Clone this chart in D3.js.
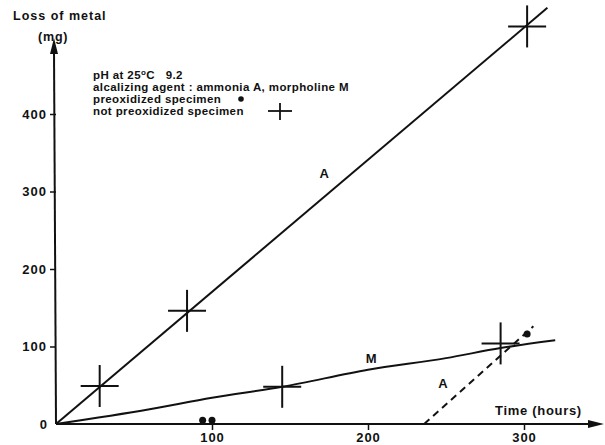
<!DOCTYPE html>
<html>
<head>
<meta charset="utf-8">
<script src="https://cdn.jsdelivr.net/npm/d3@7"></script>
<style>
  html, body { margin: 0; padding: 0; background: #fff; }
  svg { display: block; font-family: "Liberation Sans", Arial, sans-serif; }
</style>
</head>
<body>
<svg id="chart" width="605" height="445"></svg>
<script>
// ---- data (time in hours, loss in mg) ----
const xTicks = [100, 200, 300];
const yTicks = [0, 100, 200, 300, 400];
const lineA = [[0, 0], [315, 537]];
const lineM = [[0, 0], [60, 19], [100, 34], [145, 48], [200, 70], [250, 85], [285, 98], [320, 108]];
const lineAdashed = [[236, 0], [306, 126]];
const notPreoxidized = [[28, 49], [84, 146], [145, 48], [285, 104], [302, 513]];
const preoxidized = [[94, 5], [100, 5], [302, 116]];
const curveLabels = [
  { text: "A", t: 172, v: 318 },
  { text: "M", t: 202, v: 79 },
  { text: "A", t: 248, v: 46 }
];
const noteLines = [
  "alcalizing agent : ammonia A, morpholine M",
  "preoxidized specimen",
  "not preoxidized specimen"
];

const svg = d3.select("#chart");
const x = d3.scaleLinear().domain([0, 300]).range([56, 524]);
const y = d3.scaleLinear().domain([0, 400]).range([424, 114]);
const ink = "#111";

// axes
const yAxis = d3.axisLeft(y).tickValues(yTicks.filter(d => d > 0)).tickSize(6).tickFormat(d3.format("d"));
const gy = svg.append("g").attr("transform", `translate(${x(0)},0)`).call(yAxis);
gy.select(".domain").remove();
gy.selectAll("line").attr("stroke", ink).attr("stroke-width", 1.5);
gy.selectAll("text").attr("font-size", 13).attr("font-weight", "bold").attr("fill", ink)
  .attr("letter-spacing", 1).attr("x", -9);

const xAxis = d3.axisBottom(x).tickValues(xTicks).tickSize(6).tickFormat(d3.format("d"));
const gx = svg.append("g").attr("transform", `translate(0,${y(0)})`).call(xAxis);
gx.select(".domain").remove();
gx.selectAll("line").attr("stroke", ink).attr("stroke-width", 1.5);
gx.selectAll("text").attr("font-size", 13).attr("font-weight", "bold").attr("fill", ink)
  .attr("letter-spacing", 1).attr("y", 9);

// zero label
svg.append("text").attr("x", x(0) - 9).attr("y", y(0) + 5).attr("text-anchor", "end")
  .attr("font-size", 13).attr("font-weight", "bold").attr("fill", ink).text("0");

// axis lines with arrows
svg.append("line").attr("x1", x(0)).attr("y1", y(0)).attr("x2", x(0) - 2).attr("y2", 50)
  .attr("stroke", ink).attr("stroke-width", 2);
svg.append("path").attr("d", `M${x(0) - 2},38 L${x(0) - 6},54 L${x(0) + 2},54 Z`).attr("fill", ink);
svg.append("line").attr("x1", x(0)).attr("y1", y(0)).attr("x2", 592).attr("y2", y(0))
  .attr("stroke", ink).attr("stroke-width", 2);
svg.append("path").attr("d", `M604,${y(0)} L588,${y(0) - 4} L588,${y(0) + 4} Z`).attr("fill", ink);

// axis titles
svg.append("text").attr("x", 13).attr("y", 20).attr("font-size", 12.5).attr("font-weight", "bold")
  .attr("fill", ink).attr("letter-spacing", 1).text("Loss of metal");
svg.append("text").attr("x", 38).attr("y", 41).attr("font-size", 12.5).attr("font-weight", "bold")
  .attr("fill", ink).attr("letter-spacing", 0.8).text("(mg)");
svg.append("text").attr("x", 495).attr("y", 415).attr("font-size", 13).attr("font-weight", "bold")
  .attr("fill", ink).attr("letter-spacing", 0.7).text("Time (hours)");

// curves
const line = d3.line().x(d => x(d[0])).y(d => y(d[1]));
svg.append("path").datum(lineA).attr("d", line).attr("fill", "none").attr("stroke", ink).attr("stroke-width", 2);
svg.append("path").datum(lineM).attr("d", d3.line().x(d => x(d[0])).y(d => y(d[1])).curve(d3.curveMonotoneX))
  .attr("fill", "none").attr("stroke", ink).attr("stroke-width", 2);
svg.append("path").datum(lineAdashed).attr("d", line)
  .attr("fill", "none").attr("stroke", ink).attr("stroke-width", 2).attr("stroke-dasharray", "7,5");

// curve labels
svg.selectAll("text.curve").data(curveLabels).enter().append("text").attr("class", "curve")
  .attr("x", d => x(d.t)).attr("y", d => y(d.v)).attr("text-anchor", "middle")
  .attr("font-size", 13).attr("font-weight", "bold").attr("fill", ink).text(d => d.text);

// crosses (not preoxidized)
const crossG = svg.selectAll("g.cross").data(notPreoxidized).enter().append("g").attr("class", "cross")
  .attr("transform", d => `translate(${x(d[0])},${y(d[1])})`);
crossG.append("line").attr("x1", -19).attr("x2", 19).attr("stroke", ink).attr("stroke-width", 2);
crossG.append("line").attr("y1", -21).attr("y2", 21).attr("stroke", ink).attr("stroke-width", 2);

// dots (preoxidized)
svg.selectAll("circle.dot").data(preoxidized).enter().append("circle").attr("class", "dot")
  .attr("cx", d => x(d[0])).attr("cy", d => y(d[1])).attr("r", 3.5).attr("fill", ink);

// note block
const note = svg.append("g").attr("font-size", 11.5).attr("font-weight", "bold").attr("fill", ink);
const t0 = note.append("text").attr("x", 93).attr("y", 79).attr("letter-spacing", 0.4);
t0.append("tspan").text("pH at 25");
t0.append("tspan").attr("font-size", 8).attr("dy", -4).text("o");
t0.append("tspan").attr("dy", 4).attr("xml:space", "preserve").text("C   9.2");
note.selectAll("text.nl").data(noteLines).enter().append("text").attr("class", "nl")
  .attr("x", 93).attr("y", (d, i) => 91 + i * 12).attr("letter-spacing", 0.4).text(d => d);
// legend symbols
svg.append("circle").attr("cx", 241).attr("cy", 99).attr("r", 2.8).attr("fill", ink);
svg.append("line").attr("x1", 268).attr("x2", 292).attr("y1", 111).attr("y2", 111).attr("stroke", ink).attr("stroke-width", 1.8);
svg.append("line").attr("x1", 280).attr("x2", 280).attr("y1", 103).attr("y2", 120).attr("stroke", ink).attr("stroke-width", 1.8);
</script>
</body>
</html>
